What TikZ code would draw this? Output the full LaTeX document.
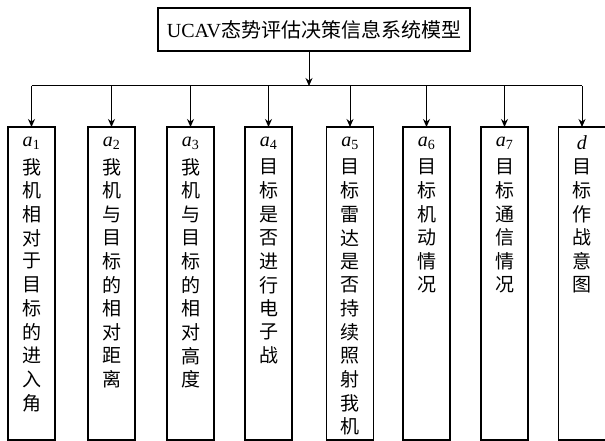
\documentclass[tikz,border=0pt]{standalone}
\usepackage{fontspec}
\setmainfont{Liberation Serif}
\newfontfamily\cjk{Noto Sans CJK SC}
\usetikzlibrary{arrows.meta}
\begin{document}
\begin{tikzpicture}[x=1pt,y=-1pt,
  boxstyle/.style={draw, line width=1.8pt, inner sep=0pt, outer sep=0pt},
  conn/.style={line width=1pt},
  arr/.style={conn,-{Stealth[length=8pt,width=7pt]}},
  chr/.style={inner sep=0pt, font=\fontsize{19}{19}\selectfont\cjk},
  lab/.style={inner sep=0pt, font=\fontsize{20}{20}\selectfont}]
\useasboundingbox (0,0) rectangle (605,441);
\node[boxstyle, minimum width=312pt, minimum height=43pt, font=\fontsize{20}{20}\selectfont] (top) at (314,29.5) {UCAV{\cjk 态势评估决策信息系统模型}};
\foreach \x/\lb/\chars/\n in {
  31.5/{\textit{a}\textsubscript{1}}/{我,机,相,对,于,目,标,的,进,入,角}/1,
  111.5/{\textit{a}\textsubscript{2}}/{我,机,与,目,标,的,相,对,距,离}/2,
  190.5/{\textit{a}\textsubscript{3}}/{我,机,与,目,标,的,相,对,高,度}/3,
  268.5/{\textit{a}\textsubscript{4}}/{目,标,是,否,进,行,电,子,战}/4,
  350/{\textit{a}\textsubscript{5}}/{目,标,雷,达,是,否,持,续,照,射,我,机}/5,
  426.5/{\textit{a}\textsubscript{6}}/{目,标,机,动,情,况}/6,
  504.5/{\textit{a}\textsubscript{7}}/{目,标,通,信,情,况}/7,
  582/{\textit{d}}/{目,标,作,战,意,图}/8} {
  \node[boxstyle, minimum width=47pt, minimum height=313pt] (b\n) at (\x,283.5) {};
  \node[lab] (l\n) at (\x,143) {\lb};
  \foreach \c [count=\i] in \chars {
    \node[chr] (c\n-\i) at (\x,{167+(\i-1)*23.6}) {\c};
  }
}
\coordinate (bus) at (0,86);
\coordinate (drop) at ([xshift=-5pt]top.south);
\draw[arr] (drop) -- (drop |- bus);
\draw[conn] (b1.north |- bus) -- (b8.north |- bus);
\foreach \n in {1,...,8} {
  \draw[arr] (b\n.north |- bus) -- (b\n.north);
}
\end{tikzpicture}
\end{document}
